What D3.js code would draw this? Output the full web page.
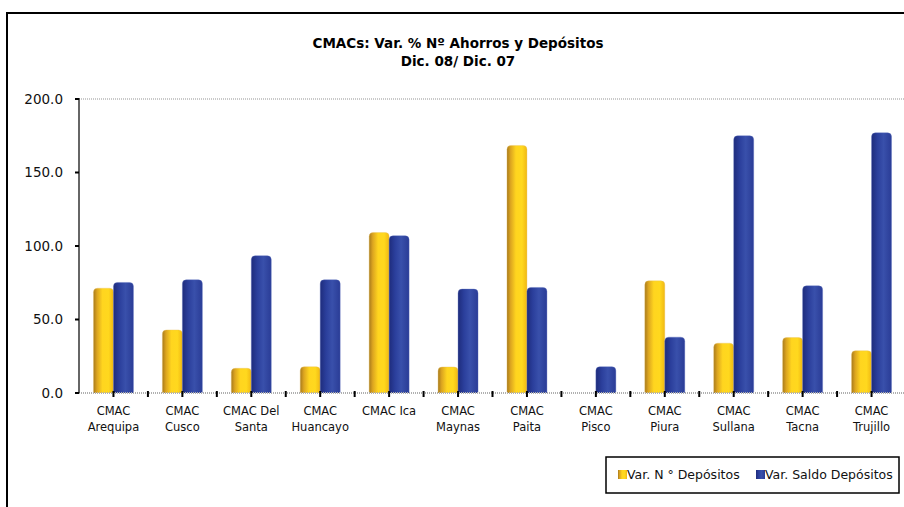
<!DOCTYPE html>
<html>
<head>
<meta charset="utf-8">
<script src="https://cdn.jsdelivr.net/npm/d3@7/dist/d3.min.js"></script>
<style>
  body { margin: 0; background: #fff; }
  svg { display: block; font-family: "DejaVu Sans", sans-serif; }
</style>
</head>
<body>
<div id="chart"></div>
<script>
// data
var categories = ["CMAC Arequipa", "CMAC Cusco", "CMAC Del Santa", "CMAC Huancayo", "CMAC Ica",
  "CMAC Maynas", "CMAC Paita", "CMAC Pisco", "CMAC Piura", "CMAC Sullana", "CMAC Tacna", "CMAC Trujillo"];
// two-line labels as in the picture
var labelLines = [["CMAC", "Arequipa"], ["CMAC", "Cusco"], ["CMAC Del", "Santa"], ["CMAC", "Huancayo"],
  ["CMAC Ica"], ["CMAC", "Maynas"], ["CMAC", "Paita"], ["CMAC", "Pisco"], ["CMAC", "Piura"],
  ["CMAC", "Sullana"], ["CMAC", "Tacna"], ["CMAC", "Trujillo"]];
var varNDepositos = [71.3, 42.9, 16.8, 17.9, 109.2, 17.7, 168.4, 0, 76.3, 33.9, 37.7, 28.8];
var varSaldoDepositos = [75.2, 77.0, 93.4, 77.0, 107.0, 70.7, 71.8, 17.9, 38.0, 175.0, 72.9, 177.0];
var seriesNames = ["Var. N \u00b0 Dep\u00f3sitos", "Var. Saldo Dep\u00f3sitos"];
var yTicks = [0, 50, 100, 150, 200];

var width = 904, height = 507;
var margin = {top: 99, left: 79, bottom: 114};
var plotRight = 906;

var svg = d3.select("#chart").append("svg")
  .attr("width", width)
  .attr("height", height);

var defs = svg.append("defs");
function cylGrad(id, stops) {
  var g = defs.append("linearGradient").attr("id", id)
    .attr("x1", "0").attr("x2", "1").attr("y1", "0").attr("y2", "0");
  stops.forEach(function (s) {
    g.append("stop").attr("offset", s[0]).attr("stop-color", s[1]);
  });
}
cylGrad("gYellow", [[0, "#a77a1c"], [0.18, "#dca520"], [0.45, "#ffd51f"], [0.75, "#ffd81e"], [1, "#f0b813"]]);
cylGrad("gBlue", [[0, "#1e2c7c"], [0.3, "#2b3f9c"], [0.6, "#3950ab"], [1, "#2a3c96"]]);
var fills = ["url(#gYellow)", "url(#gBlue)"];

// outer frame (runs off right/bottom edge)
svg.append("rect")
  .attr("x", 7).attr("y", 13)
  .attr("width", 1000).attr("height", 1000)
  .attr("fill", "none")
  .attr("stroke", "#000")
  .attr("stroke-width", 2);

// title
var title = svg.append("text")
  .attr("x", 458)
  .attr("text-anchor", "middle")
  .style("font-weight", "bold")
  .style("font-size", "13.5px");
title.append("tspan").attr("x", 458).attr("y", 48).text("CMACs: Var. % N\u00ba Ahorros y Dep\u00f3sitos");
title.append("tspan").attr("x", 458).attr("y", 66).text("Dic. 08/ Dic. 07");

//scales
var y = d3.scaleLinear()
  .domain([0, 200])
  .range([393, margin.top]);

var x0 = d3.scaleBand()
  .domain(categories)
  .range([margin.left, plotRight])
  .paddingInner(0.42)
  .paddingOuter(0.21);

var x1 = d3.scaleBand()
  .domain([0, 1])
  .range([0, x0.bandwidth()]);

var step = x0.step();

// top gridline (200)
svg.append("line")
  .attr("x1", margin.left).attr("x2", plotRight)
  .attr("y1", y(200)).attr("y2", y(200))
  .attr("stroke", "#b8b8b8")
  .attr("stroke-width", 1.5)
  .attr("stroke-dasharray", "1,1");

// bars
var groups = svg.append("g").selectAll("g")
  .data(categories)
  .enter().append("g")
  .attr("transform", function (d) { return "translate(" + x0(d) + ",0)"; });

groups.selectAll("rect")
  .data(function (d, i) {
    return [varNDepositos[i], varSaldoDepositos[i]].map(function (v, k) { return {k: k, v: v}; });
  })
  .enter().append("rect")
  .filter(function (d) { return d.v > 0; })
  .attr("x", function (d) { return x1(d.k); })
  .attr("width", x1.bandwidth())
  .attr("y", function (d) { return y(d.v); })
  .attr("height", function (d) { return y(0) - y(d.v) + 3; })
  .attr("rx", 4)
  .attr("fill", function (d) { return fills[d.k]; })
  .attr("stroke", function (d) { return d.k ? "#5d6fbf" : "#e8c060"; })
  .attr("stroke-opacity", 0.35)
  .attr("stroke-width", 1);

// x axis (dotted grey) drawn over bar bottoms
svg.append("rect")
  .attr("x", margin.left).attr("y", y(0))
  .attr("width", plotRight - margin.left).attr("height", 6)
  .attr("fill", "#fff");
svg.append("line")
  .attr("x1", margin.left).attr("x2", plotRight)
  .attr("y1", y(0)).attr("y2", y(0))
  .attr("stroke", "#b0b0b0")
  .attr("stroke-width", 2)
  .attr("stroke-dasharray", "1,1");

// x ticks at every half category
var xTickPos = [];
categories.forEach(function (c) {
  xTickPos.push(x0(c) + x0.bandwidth() / 2);
  xTickPos.push(x0(c) + x0.bandwidth() / 2 + step / 2);
});
svg.append("g").selectAll("line")
  .data(xTickPos)
  .enter().append("line")
  .attr("x1", function (d) { return d; })
  .attr("x2", function (d) { return d; })
  .attr("y1", y(0) - 2).attr("y2", y(0) + 4)
  .attr("stroke", "#000")
  .attr("stroke-width", 2);

// x labels
var xl = svg.append("g").selectAll("text")
  .data(categories)
  .enter().append("text")
  .attr("text-anchor", "middle")
  .style("font-size", "11.5px")
  .attr("fill", "#111");
xl.each(function (d, i) {
  var t = d3.select(this);
  var cx = x0(d) + x0.bandwidth() / 2;
  labelLines[i].forEach(function (s, j) {
    t.append("tspan").attr("x", cx).attr("y", 415 + j * 16).text(s);
  });
});

// y axis
svg.append("line")
  .attr("x1", margin.left).attr("x2", margin.left)
  .attr("y1", y(200) - 1).attr("y2", y(0))
  .attr("stroke", "#333")
  .attr("stroke-width", 1.5);

var yt = svg.append("g").selectAll("g")
  .data(yTicks)
  .enter().append("g")
  .attr("transform", function (d) { return "translate(0," + y(d) + ")"; });
yt.append("line")
  .attr("x1", margin.left - 4).attr("x2", margin.left)
  .attr("stroke", "#000")
  .attr("stroke-width", 2);
yt.append("text")
  .attr("x", 63)
  .attr("dy", "0.35em")
  .attr("text-anchor", "end")
  .style("font-size", "13.5px")
  .attr("fill", "#111")
  .text(function (d) { return d3.format(".1f")(d); });

// legend
var lg = svg.append("g");
lg.append("rect")
  .attr("x", 606).attr("y", 457)
  .attr("width", 293).attr("height", 36)
  .attr("fill", "#fff")
  .attr("stroke", "#000")
  .attr("stroke-width", 1.5);
var legX = [618, 756];
seriesNames.forEach(function (name, k) {
  lg.append("rect")
    .attr("x", legX[k]).attr("y", 470)
    .attr("width", 9).attr("height", 9)
    .attr("fill", fills[k]);
  lg.append("text")
    .attr("x", legX[k] + 9)
    .attr("y", 479)
    .style("font-size", "12.5px")
    .attr("fill", "#111")
    .text(name);
});
</script>
</body>
</html>
